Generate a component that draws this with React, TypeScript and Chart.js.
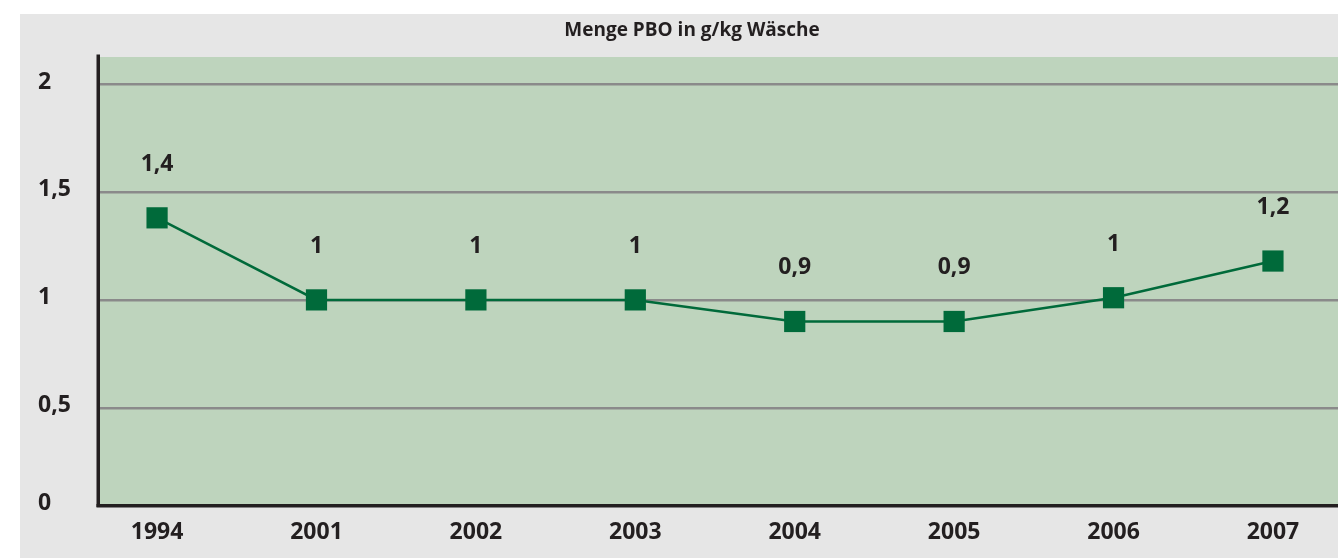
import { useEffect, useRef } from "react";
import { Chart, registerables } from "chart.js";

Chart.register(...registerables);

const title = "Menge PBO in g/kg Wäsche";
const years = ["1994", "2001", "2002", "2003", "2004", "2005", "2006", "2007"];
const values = [1.38, 1.0, 1.0, 1.0, 0.9, 0.9, 1.01, 1.18];
const valueLabels = ["1,4", "1", "1", "1", "0,9", "0,9", "1", "1,2"];
const yTicks = [0, 0.5, 1, 1.5, 2];
const yTickLabels = ["0", "0,5", "1", "1,5", "2"];

const Y_FLOOR = 0.05;
const Y_MAX = 2.125;
const X_MIN = -0.358;
const X_MAX = 7.408;

const FONT = "'Open Sans', 'DejaVu Sans', sans-serif";
const TEXT = "#231f20";
const GREEN_BG = "#bed4bd";
const GREY_BG = "#e6e6e6";
const LINE = "#006a3a";

const decorPlugin = {
  id: "decor",
  beforeDraw(chart: any) {
    const { ctx, chartArea } = chart;
    ctx.save();
    ctx.fillStyle = GREY_BG;
    ctx.fillRect(20, 14, chart.width - 20, chart.height - 14);
    ctx.fillStyle = GREEN_BG;
    ctx.fillRect(chartArea.left, chartArea.top, chart.width - chartArea.left, chartArea.bottom - chartArea.top);
    ctx.fillStyle = TEXT;
    ctx.font = `bold 19px ${FONT}`;
    ctx.textAlign = "center";
    ctx.textBaseline = "alphabetic";
    ctx.fillText(title, 692, 36);
    ctx.restore();
  },
  beforeDatasetsDraw(chart: any) {
    const { ctx, chartArea } = chart;
    ctx.save();
    ctx.fillStyle = TEXT;
    ctx.fillRect(chartArea.left - 3.5, chartArea.top - 2.5, 3.5, chartArea.bottom - chartArea.top + 4.5);
    ctx.fillRect(chartArea.left - 3.5, chartArea.bottom - 1, chart.width - chartArea.left + 3.5, 3.5);
    ctx.restore();
  },
  afterDatasetsDraw(chart: any) {
    const { ctx } = chart;
    const meta = chart.getDatasetMeta(0);
    ctx.save();
    ctx.fillStyle = TEXT;
    ctx.font = `bold 23px ${FONT}`;
    ctx.textAlign = "center";
    ctx.textBaseline = "alphabetic";
    meta.data.forEach((pt: any, i: number) => {
      ctx.fillText(valueLabels[i], pt.x, pt.y - 47);
    });
    ctx.restore();
  },
};

export default function App() {
  const ref = useRef<HTMLCanvasElement>(null);
  useEffect(() => {
    document.body.style.margin = "0";
    const canvas = ref.current;
    if (!canvas) return;
    const chart = new Chart(canvas, {
      type: "line",
      data: {
        datasets: [
          {
            data: values.map((v, i) => ({ x: i, y: v })),
            borderColor: LINE,
            borderWidth: 2.5,
            backgroundColor: LINE,
            pointStyle: "rect",
            pointRadius: 15,
            pointHoverRadius: 15,
            pointBorderWidth: 0,
            pointBackgroundColor: LINE,
            tension: 0,
            fill: false,
          },
        ],
      },
      options: {
        animation: false,
        responsive: false,
        maintainAspectRatio: false,
        layout: { autoPadding: false, padding: { left: 38, top: 57, right: 0, bottom: 0 } },
        plugins: {
          legend: { display: false },
          tooltip: { enabled: false },
          title: { display: false },
        },
        scales: {
          x: {
            type: "linear",
            min: X_MIN,
            max: X_MAX,
            afterBuildTicks: (scale: any) => {
              scale.ticks = years.map((_, i) => ({ value: i }));
            },
            afterFit: (scale: any) => {
              scale.height = 53;
              scale.paddingLeft = 0;
              scale.paddingRight = 0;
            },
            grid: { display: false, drawTicks: false },
            border: { display: false },
            ticks: {
              padding: 14,
              maxRotation: 0,
              autoSkip: false,
              color: TEXT,
              font: { family: FONT, size: 23, weight: "bold" },
              callback: (_v: any, i: number) => years[i],
            },
          },
          y: {
            type: "linear",
            min: Y_FLOOR,
            max: Y_MAX,
            afterBuildTicks: (scale: any) => {
              scale.ticks = yTicks.map((v) => ({ value: Math.max(v, Y_FLOOR) }));
            },
            afterFit: (scale: any) => {
              scale.width = 62;
              scale.paddingTop = 0;
              scale.paddingBottom = 0;
            },
            grid: { color: "#8a8a8a", lineWidth: 2.5, drawTicks: false },
            border: { display: false },
            ticks: {
              crossAlign: "far",
              labelOffset: -2,
              color: TEXT,
              font: { family: FONT, size: 23, weight: "bold" },
              callback: (_v: any, i: number) => yTickLabels[i],
            },
          },
        },
      },
      plugins: [decorPlugin],
    } as any);
    return () => chart.destroy();
  }, []);
  return (
    <div style={{ position: "relative", width: 1338, height: 558 }}>
      <canvas ref={ref} width={1338} height={558} style={{ display: "block", width: 1338, height: 558 }} />
    </div>
  );
}
